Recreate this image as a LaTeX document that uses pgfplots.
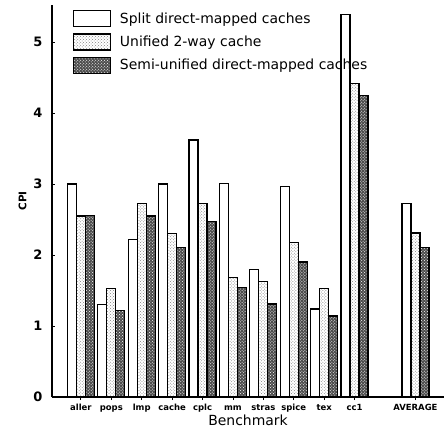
\documentclass[border=0pt]{standalone}
\usepackage{fontspec}
\setmainfont{DejaVu Sans}
\usepackage{pgfplots}
\pgfplotsset{compat=1.18}
\usetikzlibrary{patterns}
\pgfplotstableread{
x split unified semi
0 3.00 2.55 2.56
1 1.30 1.53 1.22
2 2.22 2.72 2.55
3 3.00 2.30 2.10
4 3.62 2.73 2.47
5 3.01 1.68 1.54
6 1.80 1.63 1.31
7 2.96 2.17 1.90
8 1.24 1.53 1.14
9 5.39 4.42 4.25
11 2.73 2.31 2.11
}\data
\begin{document}
\begin{tikzpicture}
\begin{axis}[
  scale only axis,
  width=392bp, height=392bp,
  xmin=-0.95, xmax=11.94,
  ymin=0, ymax=5.52,
  axis lines*=left,
  axis line style={line width=1.4pt},
  ybar=0pt, bar width=9bp,
  xtick={0,1,2,3,4,5,6,7,8,9,11},
  xticklabels={aller,pops,lmp,cache,cplc,mm,stras,spice,tex,cc1,AVERAGE},
  xticklabel style={font=\fontsize{8.5}{9}\selectfont\bfseries, text height=1.6ex, text depth=0.3ex, yshift=2bp},
  ytick={0,1,2,3,4,5},
  yticklabel style={font=\fontsize{13}{13}\selectfont\bfseries, xshift=-6bp},
  /pgf/number format/assume math mode=true,
  tick style={black, line width=0.8pt},
  major tick length=3bp,
  xlabel={Benchmark},
  xlabel style={font=\fontsize{14}{14}\selectfont, yshift=4bp},
  ylabel={CPI},
  ylabel style={font=\fontsize{10.5}{11}\selectfont\bfseries, yshift=0bp},
  legend style={at={(0.05,0.99)}, anchor=north west, draw=none, fill=none,
    font=\fontsize{14}{15}\selectfont, row sep=6bp, inner sep=1bp},
  legend cell align=left,
  legend image code/.code={\draw[#1, line width=1.2pt] (0bp,-8bp) rectangle (37bp,8bp);
    \path (44bp,0bp);},
  clip=false,
]
\addplot[draw=black, line width=1.2pt, fill=white] table[x=x, y=split] {\data};
\addplot[draw=black, line width=1.2pt, pattern=crosshatch dots, pattern color=gray] table[x=x, y=unified] {\data};
\addplot[draw=black, line width=1.2pt, fill=black!70, postaction={pattern=crosshatch dots, pattern color=white}] table[x=x, y=semi] {\data};
\legend{Split direct-mapped caches, Unified 2-way cache, Semi-unified direct-mapped caches}
\end{axis}
\path (current axis.south west) ++(-52bp,-31bp) coordinate (bl);
\path (current axis.north east) ++(0bp,5bp) coordinate (tr);
\pgfresetboundingbox
\useasboundingbox (bl) rectangle (tr);
\end{tikzpicture}
\end{document}
